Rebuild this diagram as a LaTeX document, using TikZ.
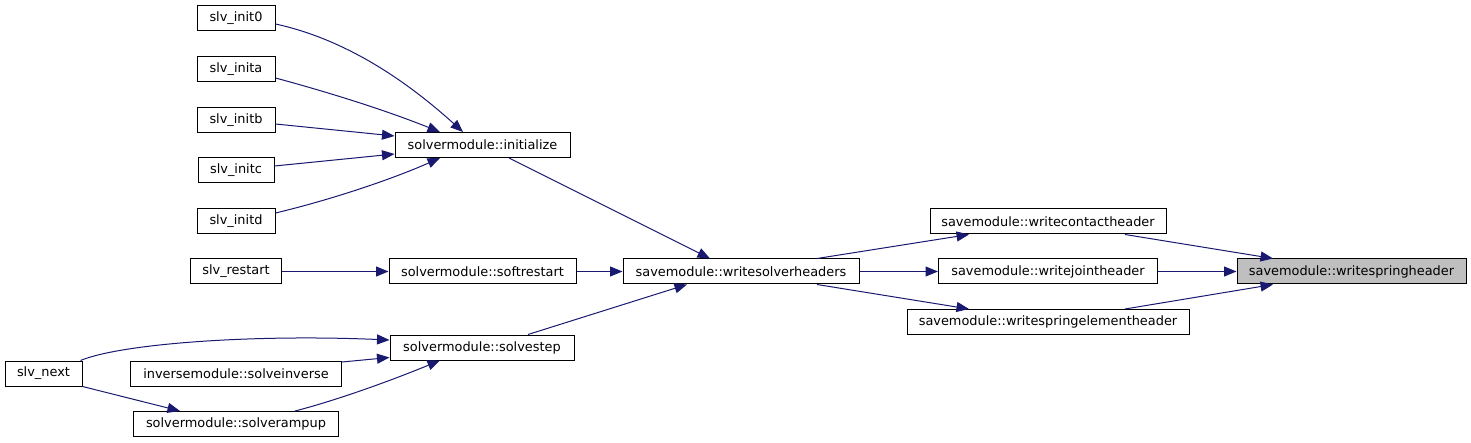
\documentclass[tikz,border=0pt]{standalone}
\usepackage{fontspec}
\setmainfont{DejaVu Sans}
\usetikzlibrary{arrows.meta}
\definecolor{edgecol}{HTML}{191970}
\definecolor{hl}{HTML}{BFBFBF}
\tikzset{
  fn/.style={draw=black, line width=1pt, minimum height=25pt, inner sep=0pt, font=\fontsize{12.9pt}{14pt}\selectfont, text=black},
  cur/.style={fn, fill=hl},
  call/.style={draw=edgecol, line width=1pt, -{Triangle[length=12.5pt,width=10pt]}, fill=none}
}
\begin{document}
\begin{tikzpicture}[x=1pt,y=-1pt]
\useasboundingbox (0,0) rectangle (1471,443);
% nodes
\node[fn, minimum width=78pt] (init0) at (236,18.5) {slv\_init0};
\node[fn, minimum width=78pt] (inita) at (236,69.5) {slv\_inita};
\node[fn, minimum width=78pt] (initb) at (236,120) {slv\_initb};
\node[fn, minimum width=76pt] (initc) at (236,170.5) {slv\_initc};
\node[fn, minimum width=78pt] (initd) at (236,221) {slv\_initd};
\node[fn, minimum width=175pt] (init) at (482.5,145) {solvermodule::initialize};
\node[fn, minimum width=91pt] (restart) at (236,271.5) {slv\_restart};
\node[fn, minimum width=187pt] (soft) at (482.5,271.5) {solvermodule::softrestart};
\node[fn, minimum width=184pt] (step) at (482,347.5) {solvermodule::solvestep};
\node[fn, minimum width=77pt] (next) at (43.5,373.5) {slv\_next};
\node[fn, minimum width=211pt] (inv) at (236,373.5) {inversemodule::solveinverse};
\node[fn, minimum width=205pt] (ramp) at (236,424) {solvermodule::solverampup};
\node[fn, minimum width=236pt] (wsh) at (741,271.5) {savemodule::writesolverheaders};
\node[fn, minimum width=236pt] (wch) at (1048,221.5) {savemodule::writecontactheader};
\node[fn, minimum width=219pt] (wjh) at (1048,271.5) {savemodule::writejointheader};
\node[fn, minimum width=282pt] (wseh) at (1048,322) {savemodule::writespringelementheader};
\node[cur, minimum width=229pt] (wsph) at (1351.5,271.5) {savemodule::writespringheader};
% edges
\draw[call] ([yshift=-5.5pt]init0.east) .. controls (340,38) and (400,75) .. ([xshift=-19.5pt]init.north);
\draw[call] ([yshift=-8.5pt]inita.east) .. controls (320,90) and (380,108) .. ([xshift=-42.5pt]init.north);
\draw[call] ([yshift=-4pt]initb.east) -- ([yshift=9pt]init.west);
\draw[call] ([yshift=4.5pt]initc.east) -- ([yshift=-9pt]init.west);
\draw[call] ([yshift=8pt]initd.east) .. controls (330,200) and (390,180) .. ([xshift=-42.5pt]init.south);
\draw[call] ([xshift=26.5pt]init.south) -- ([xshift=-31pt]wsh.north);
\draw[call] (restart.east) -- (soft.west);
\draw[call] (soft.east) -- (wsh.west);
\draw[call] ([xshift=46pt]step.north) -- ([xshift=-54pt]wsh.south);
\draw[call] ([xshift=-2pt]next.north east) .. controls (120,344) and (250,334) .. ([yshift=7.5pt]step.west);
\draw[call] ([yshift=11.5pt]inv.east) -- ([yshift=-10pt]step.west);
\draw[call] (next.south east) -- ([xshift=-56pt]ramp.north);
\draw[call] ([xshift=59pt]ramp.north) .. controls (330,402) and (380,385) .. ([xshift=-42pt]step.south);
\draw[call] ([xshift=76pt]wsh.north) -- ([xshift=-79pt]wch.south);
\draw[call] (wsh.east) -- (wjh.west);
\draw[call] ([xshift=76pt]wsh.south) -- ([xshift=-79pt]wseh.north);
\draw[call] ([xshift=77pt]wch.south) -- ([xshift=-78.5pt]wsph.north);
\draw[call] (wjh.east) -- (wsph.west);
\draw[call] ([xshift=77pt]wseh.north) -- ([xshift=-78.5pt]wsph.south);
\end{tikzpicture}
\end{document}
